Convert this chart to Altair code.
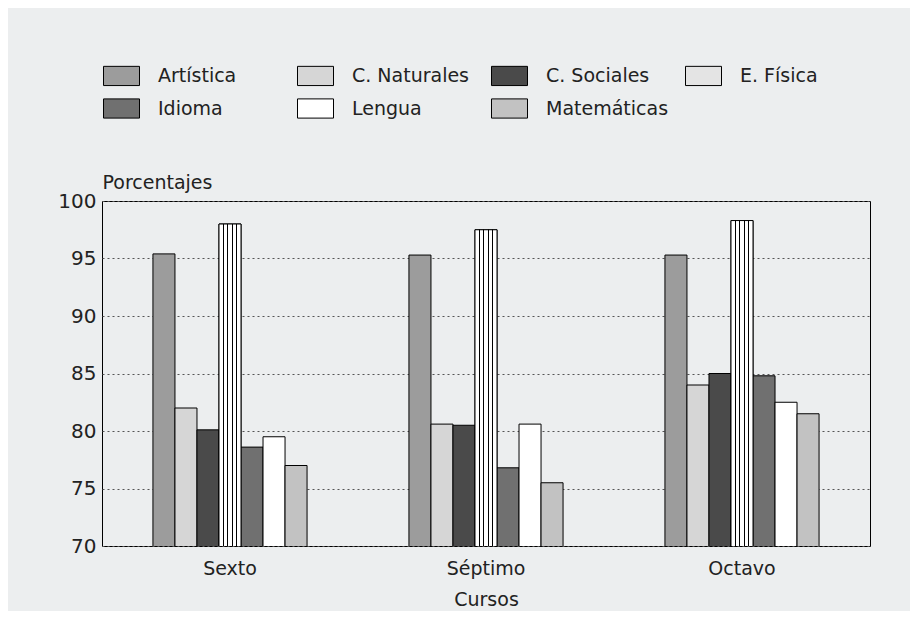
import altair as alt
import pandas as pd

courses = ["Sexto", "Séptimo", "Octavo"]
subjects = ["Artística", "C. Naturales", "C. Sociales", "E. Física", "Idioma", "Lengua", "Matemáticas"]
sexto = [95.4, 82.0, 80.1, 98.0, 78.6, 79.5, 77.0]
septimo = [95.3, 80.6, 80.5, 97.5, 76.8, 80.6, 75.5]
octavo = [95.3, 84.0, 85.0, 98.3, 84.8, 82.5, 81.5]
y_ticks = [70, 75, 80, 85, 90, 95, 100]

fills = ["#9c9c9c", "#d6d6d6", "#4a4a4a", "#e4e4e4", "#707070", "#ffffff", "#c2c2c2"]

rows = []
for course, vals in zip(courses, [sexto, septimo, octavo]):
    for s, v in zip(subjects, vals):
        rows.append({"Curso": course, "Asignatura": s, "Porcentaje": v})
df = pd.DataFrame(rows)

FONT = "DejaVu Sans"

x_enc = alt.X("Curso:N", sort=courses,
              scale=alt.Scale(paddingInner=0.398, paddingOuter=0.199),
              axis=alt.Axis(title="Cursos", labelAngle=0, ticks=False, domain=False,
                            labelFontSize=19, titleFontSize=19, labelPadding=13,
                            titlePadding=12, labelFont=FONT, titleFont=FONT,
                            labelColor="#222", titleColor="#222", titleFontWeight="normal"))
xo_enc = alt.XOffset("Asignatura:N", sort=subjects,
                     scale=alt.Scale(domain=subjects, paddingInner=0, paddingOuter=0))
y_enc = alt.Y("Porcentaje:Q",
              scale=alt.Scale(domain=[70, 100], zero=False, nice=False),
              axis=alt.Axis(title="Porcentajes", values=y_ticks, ticks=False, domain=False,
                            grid=True, gridDash=[2, 3], gridColor="#555", gridWidth=1,
                            labelFontSize=20, labelPadding=6, labelFont=FONT,
                            labelColor="#222", titleFont=FONT, titleFontSize=19,
                            titleColor="#222", titleFontWeight="normal",
                            titleAngle=0, titleAlign="left", titleBaseline="middle",
                            titleX=0, titleY=-19))

bars = alt.Chart(df).mark_bar(stroke="black", strokeWidth=1, clip=True).encode(
    x=x_enc,
    xOffset=xo_enc,
    y=y_enc,
    fill=alt.Fill("Asignatura:N", sort=subjects,
                  scale=alt.Scale(domain=subjects, range=fills),
                  legend=alt.Legend(title=None, orient="none", legendX=3, legendY=-142,
                                    direction="horizontal",
                                    columns=4, gridAlign="all", columnPadding=14,
                                    rowPadding=4, padding=0,
                                    symbolType="M-1.125,-0.6L1.125,-0.6L1.125,0.6L-1.125,0.6Z",
                                    symbolSize=1024, symbolStrokeColor="black",
                                    symbolStrokeWidth=1, symbolOpacity=1,
                                    labelFont=FONT, labelFontSize=19, labelOffset=20,
                                    labelColor="#222", labelLimit=300)),
)

stops = [alt.GradientStop(color="white", offset=0)]
for k in range(1, 5):
    c = k / 5
    stops += [alt.GradientStop(color="white", offset=c - 0.03),
              alt.GradientStop(color="black", offset=c - 0.03),
              alt.GradientStop(color="black", offset=c + 0.03),
              alt.GradientStop(color="white", offset=c + 0.03)]
stops.append(alt.GradientStop(color="white", offset=1))
stripe = alt.LinearGradient(gradient="linear", stops=stops, x1=0, x2=1, y1=0, y2=0)

fisica = alt.Chart(df).transform_filter(alt.datum.Asignatura == "E. Física").mark_bar(
    stroke="black", strokeWidth=1, clip=True, fill=stripe
).encode(x=x_enc, xOffset=xo_enc, y=y_enc)

chart = alt.layer(bars, fisica).properties(
    width=768, height=345,
    background="#eceeef",
    autosize=alt.AutoSizeParams(type="none"),
    padding={"left": 94, "top": 193, "right": 40, "bottom": 65},
).configure_view(stroke="black", strokeWidth=1)

chart.save("out.html", embed_options={"renderer": "svg", "actions": False})
